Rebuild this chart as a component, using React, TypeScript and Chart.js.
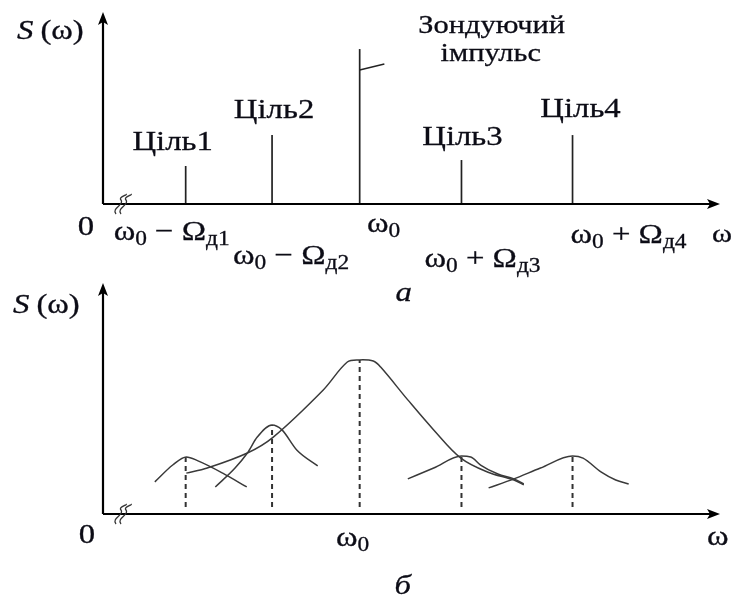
import React, { useEffect, useRef } from "react";
import { Chart, registerables } from "chart.js";

Chart.register(...registerables);

// ================= DATA =================
// Panel а — line spectrum (relative frequency units 0..100, amplitude units 0..100)
const lineFreq = [13.4, 27.4, 41.6, 58.1, 76.1]; // ω0−Ωд1, ω0−Ωд2, ω0, ω0+Ωд3, ω0+Ωд4
const lineAmp = [19.8, 35.9, 80.7, 22.9, 35.9];
const targetNames = ["Ціль1", "Ціль2", "", "Ціль3", "Ціль4"];
const probeName = ["Зондуючий", "імпульс"];
const probeLeaderFreq = [41.6, 45.6];
const probeLeaderAmp = [69.8, 72.9];
const tickLabelsA = ["ω_0 − Ω_д1", "ω_0 − Ω_д2", "ω_0", "ω_0 + Ω_д3", "ω_0 + Ω_д4"];
const axisLabelY = "S(ω)";
const axisLabelX = "ω";
const originLabel = "0";
const captionA = "а";
const captionB = "б";
const tickLabelB = "ω_0";

// Panel б — blurred spectra
const target1X = [8.4, 11.3, 13.5, 15.4, 19.4, 23.3];
const target1Y = [13.9, 21.2, 24.7, 23.0, 17.7, 11.7];
const target2X = [18.2, 21.4, 23.4, 25.0, 27.4, 29.0, 31.4, 34.8];
const target2Y = [11.7, 19.9, 26.4, 33.3, 38.5, 36.4, 27.7, 20.8];
const probeX = [13.5, 16.9, 23.4, 27.6, 35.7, 39.6, 41.6, 43.8, 45.0, 49.4, 53.6, 58.0, 62.3, 66.6, 68.2];
const probeY = [17.7, 19.9, 26.4, 33.3, 53.7, 65.8, 66.7, 66.2, 63.6, 49.4, 36.4, 24.2, 18.2, 14.7, 12.6];
const target3X = [49.4, 53.6, 58.1, 59.6, 61.2, 64.0, 66.6, 68.2];
const target3Y = [15.2, 19.9, 25.1, 24.7, 21.2, 17.3, 15.2, 13.0];
const target4X = [62.5, 66.6, 70.9, 76.1, 77.8, 80.7, 83.1, 85.2];
const target4Y = [11.3, 15.2, 19.9, 25.1, 24.2, 18.2, 14.7, 13.0];
const peakAmpB = [24.7, 38.5, 66.7, 25.1, 25.1];
const dropFloor = 3.0;

// ================= STYLE / LAYOUT =================
const FONT = '"Liberation Serif", "Times New Roman", serif';
const MAIN = 28;
const SUB = 20;
const SX = 1.17;
const INK = "#0c0c16";
const targetLayout = [
  { dx: -13, dy: -16 },
  { dx: 2, dy: -17 },
  null,
  { dx: 1, dy: -15 },
  { dx: 8, dy: -18 },
];
const tickLayoutA = [
  { dx: -14, base: 36 },
  { dx: 19, base: 60 },
  { dx: 24, base: 28 },
  { dx: 21, base: 63 },
  { dx: 56, base: 39 },
];

function drawText(ctx: CanvasRenderingContext2D, s: string, x: number, y: number, font: string, align = "left") {
  ctx.save();
  ctx.font = font;
  const w = ctx.measureText(s).width * SX;
  const left = align === "center" ? x - w / 2 : align === "right" ? x - w : x;
  ctx.translate(left, y);
  ctx.scale(SX, 1);
  ctx.textAlign = "left";
  ctx.textBaseline = "alphabetic";
  ctx.fillStyle = INK;
  ctx.strokeStyle = INK;
  ctx.lineWidth = 0.3;
  ctx.fillText(s, 0, 0);
  ctx.strokeText(s, 0, 0);
  ctx.restore();
  return w;
}

function parseMath(s: string) {
  const parts: { t: string; sub: boolean }[] = [];
  const re = /_([^\s]+)/g;
  let last = 0;
  let m: RegExpExecArray | null;
  while ((m = re.exec(s))) {
    if (m.index > last) parts.push({ t: s.slice(last, m.index), sub: false });
    parts.push({ t: m[1], sub: true });
    last = m.index + m[0].length;
  }
  if (last < s.length) parts.push({ t: s.slice(last), sub: false });
  return parts;
}

function drawMath(ctx: CanvasRenderingContext2D, s: string, cx: number, base: number) {
  const parts = parseMath(s);
  const fontOf = (p: { sub: boolean }) => `${p.sub ? SUB : MAIN}px ${FONT}`;
  let total = 0;
  for (const p of parts) {
    ctx.font = fontOf(p);
    total += ctx.measureText(p.t).width * SX;
  }
  let x = cx - total / 2;
  for (const p of parts) {
    x += drawText(ctx, p.t, x, base + (p.sub ? 5 : 0), fontOf(p));
  }
}

function drawAxes(chart: any) {
  const ctx: CanvasRenderingContext2D = chart.ctx;
  const xs = chart.scales.x;
  const ys = chart.scales.y;
  const x0 = xs.getPixelForValue(0);
  const y0 = ys.getPixelForValue(0);
  const top = chart.chartArea.top;
  const right = chart.chartArea.right;
  ctx.save();
  ctx.strokeStyle = "#000";
  ctx.fillStyle = "#000";
  ctx.lineWidth = 2.2;
  ctx.beginPath();
  ctx.moveTo(x0, y0);
  ctx.lineTo(x0, top + 8);
  ctx.moveTo(x0, y0);
  ctx.lineTo(right - 8, y0);
  ctx.stroke();
  // arrow heads
  ctx.beginPath();
  ctx.moveTo(x0, top);
  ctx.lineTo(x0 - 5, top + 13);
  ctx.lineTo(x0, top + 10);
  ctx.lineTo(x0 + 5, top + 13);
  ctx.closePath();
  ctx.fill();
  ctx.beginPath();
  ctx.moveTo(right, y0);
  ctx.lineTo(right - 13, y0 - 5);
  ctx.lineTo(right - 10, y0);
  ctx.lineTo(right - 13, y0 + 5);
  ctx.closePath();
  ctx.fill();
  // break mark
  ctx.lineWidth = 1.3;
  ctx.strokeStyle = "#333";
  for (const k of [0, 5]) {
    const a = x0 + 13 + k;
    ctx.beginPath();
    ctx.moveTo(a, y0 + 10);
    ctx.bezierCurveTo(a - 5, y0 + 4, a + 9, y0 + 1, a + 5, y0 - 4);
    ctx.bezierCurveTo(a + 2, y0 - 7, a + 12, y0 - 9, a + 10, y0 - 10);
    ctx.stroke();
  }
  ctx.restore();
  return { x0, y0, top, right };
}

function drawYLabel(ctx: CanvasRenderingContext2D, x: number, base: number) {
  const w = drawText(ctx, axisLabelY.slice(0, 1), x, base, `italic ${MAIN}px ${FONT}`);
  drawText(ctx, axisLabelY.slice(1), x + w + 7, base, `${MAIN}px ${FONT}`);
}

const overlayA = {
  id: "overlayA",
  afterDatasetsDraw(chart: any) {
    const ctx: CanvasRenderingContext2D = chart.ctx;
    const { x0, y0, top, right } = drawAxes(chart);
    const xs = chart.scales.x;
    const ys = chart.scales.y;
    lineFreq.forEach((f, i) => {
      const lay = targetLayout[i];
      if (lay && targetNames[i]) {
        drawText(ctx, targetNames[i], xs.getPixelForValue(f) + lay.dx, ys.getPixelForValue(lineAmp[i]) + lay.dy, `${MAIN}px ${FONT}`, "center");
      }
      const tl = tickLayoutA[i];
      drawMath(ctx, tickLabelsA[i], xs.getPixelForValue(f) + tl.dx, y0 + tl.base);
    });
    const px = xs.getPixelForValue(lineFreq[2]);
    const py = ys.getPixelForValue(lineAmp[2]);
    drawText(ctx, probeName[0], px + 132, py - 16, `${MAIN - 2}px ${FONT}`, "center");
    drawText(ctx, probeName[1], px + 131, py + 12, `${MAIN - 2}px ${FONT}`, "center");
    drawYLabel(ctx, x0 - 86, top + 27);
    drawText(ctx, originLabel, x0 - 17, y0 + 31, `${MAIN}px ${FONT}`, "center");
    drawText(ctx, axisLabelX, right - 8, y0 + 38, `${MAIN - 2}px ${FONT}`);
    drawText(ctx, captionA, xs.getPixelForValue(lineFreq[2]) + 44, y0 + 97, `italic ${MAIN}px ${FONT}`, "center");
  },
};

const overlayB = {
  id: "overlayB",
  afterDatasetsDraw(chart: any) {
    const ctx: CanvasRenderingContext2D = chart.ctx;
    const { x0, y0, top, right } = drawAxes(chart);
    const xs = chart.scales.x;
    drawYLabel(ctx, x0 - 90, top + 30);
    drawText(ctx, originLabel, x0 - 16, y0 + 29, `${MAIN}px ${FONT}`, "center");
    drawMath(ctx, tickLabelB, xs.getPixelForValue(lineFreq[2]) - 7, y0 + 32);
    drawText(ctx, axisLabelX, right - 13, y0 + 31, `${MAIN}px ${FONT}`);
    drawText(ctx, captionB, xs.getPixelForValue(lineFreq[2]) + 43, y0 + 80, `italic ${MAIN}px ${FONT}`, "center");
  },
};

const pts = (xs: number[], ys: number[]) => xs.map((x, i) => ({ x, y: ys[i] }));

const baseOptions = (padding: any) => ({
  animation: false as const,
  responsive: false,
  maintainAspectRatio: false,
  events: [] as any[],
  layout: { padding },
  plugins: { legend: { display: false }, tooltip: { enabled: false }, title: { display: false } },
  scales: {
    x: { type: "linear" as const, min: 0, max: 100, display: false },
    y: { type: "linear" as const, min: 0, max: 100, display: false },
  },
});

function configA(): any {
  const lines = lineFreq.map((f, i) => ({
    data: [
      { x: f, y: 0 },
      { x: f, y: lineAmp[i] },
    ],
    showLine: true,
    borderColor: "#222",
    borderWidth: 1.7,
    pointRadius: 0,
    clip: false,
  }));
  const leader = {
    data: pts(probeLeaderFreq, probeLeaderAmp),
    showLine: true,
    borderColor: "#222",
    borderWidth: 1.4,
    pointRadius: 0,
    clip: false,
  };
  return {
    type: "scatter",
    data: { datasets: [...lines, leader] },
    options: baseOptions({ left: 103, right: 14, top: 12, bottom: 106 }),
    plugins: [overlayA],
  };
}

function configB(): any {
  const curve = (xs: number[], ys: number[], smooth: any) => ({
    data: pts(xs, ys),
    showLine: true,
    borderColor: "#3a3a3a",
    borderWidth: 1.5,
    pointRadius: 0,
    ...smooth,
    clip: false,
  });
  const mono = { cubicInterpolationMode: "monotone" };
  const drops = lineFreq.map((f, i) => ({
    data: [
      { x: f, y: dropFloor },
      { x: f, y: peakAmpB[i] },
    ],
    showLine: true,
    borderColor: "#333",
    borderWidth: 2,
    borderDash: [5, 4],
    pointRadius: 0,
    clip: false,
  }));
  return {
    type: "scatter",
    data: {
      datasets: [
        curve(target1X, target1Y, mono),
        curve(target2X, target2Y, mono),
        curve(probeX, probeY, { tension: 0.35 }),
        curve(target3X, target3Y, mono),
        curve(target4X, target4Y, mono),
        ...drops,
      ],
    },
    options: baseOptions({ left: 103, right: 14, top: 13, bottom: 85 }),
    plugins: [overlayB],
  };
}

export default function App() {
  const refA = useRef<HTMLCanvasElement>(null);
  const refB = useRef<HTMLCanvasElement>(null);
  useEffect(() => {
    const a = new Chart(refA.current as HTMLCanvasElement, configA());
    const b = new Chart(refB.current as HTMLCanvasElement, configB());
    return () => {
      a.destroy();
      b.destroy();
    };
  }, []);
  return (
    <div style={{ position: "fixed", left: 0, top: 0, width: 734, height: 599, background: "#fff" }}>
      <canvas ref={refA} width={734} height={310} style={{ position: "absolute", left: 0, top: 0, width: 734, height: 310 }} />
      <canvas ref={refB} width={734} height={329} style={{ position: "absolute", left: 0, top: 270, width: 734, height: 329 }} />
    </div>
  );
}
